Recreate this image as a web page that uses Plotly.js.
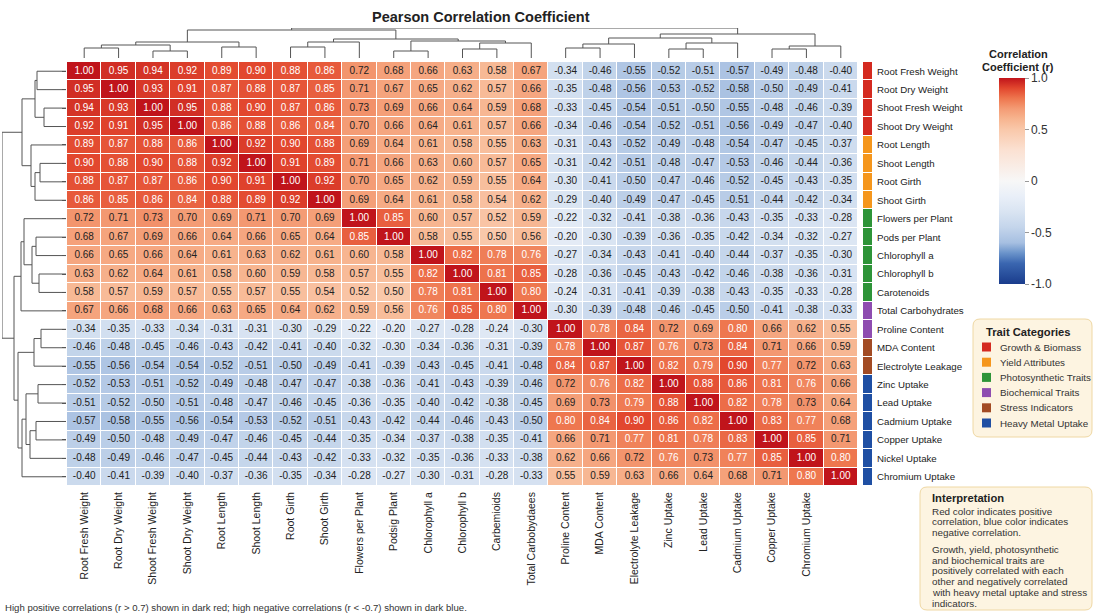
<!DOCTYPE html>
<html><head><meta charset="utf-8">
<script src="https://cdn.plot.ly/plotly-3.0.1.min.js"></script>
<style>html,body{margin:0;padding:0;background:#fff}#chart{width:1094px;height:616px}</style>
</head><body><div id="chart"></div>
<script>
// ---------------- DATA ----------------
const traits = ["Root Fresh Weight","Root Dry Weight","Shoot Fresh Weight","Shoot Dry Weight","Root Length","Shoot Length","Root Girth","Shoot Girth","Flowers per Plant","Pods per Plant","Chlorophyll a","Chlorophyll b","Carotenoids","Total Carbohydrates","Proline Content","MDA Content","Electrolyte Leakage","Zinc Uptake","Lead Uptake","Cadmium Uptake","Copper Uptake","Nickel Uptake","Chromium Uptake"];
const xTickLabels = ["Root Fresh Weight","Root Dry Weight","Shoot Fresh Weight","Shoot Dry Weight","Root Length","Shoot Length","Root Girth","Shoot Girth","Flowers per Plant","Podsig Plant","Chlorophyll a","Chlorophyll b","Carbemioids","Total Carbobydaees","Proline Content","MDA Content","Electrolyte Leakage","Zinc Uptake","Lead Uptake","Cadmium Uptake","Copper Uptake","Chromium Uptake"];
const corr = [
[1.00,0.95,0.94,0.92,0.89,0.90,0.88,0.86,0.72,0.68,0.66,0.63,0.58,0.67,-0.34,-0.46,-0.55,-0.52,-0.51,-0.57,-0.49,-0.48,-0.40],
[0.95,1.00,0.93,0.91,0.87,0.88,0.87,0.85,0.71,0.67,0.65,0.62,0.57,0.66,-0.35,-0.48,-0.56,-0.53,-0.52,-0.58,-0.50,-0.49,-0.41],
[0.94,0.93,1.00,0.95,0.88,0.90,0.87,0.86,0.73,0.69,0.66,0.64,0.59,0.68,-0.33,-0.45,-0.54,-0.51,-0.50,-0.55,-0.48,-0.46,-0.39],
[0.92,0.91,0.95,1.00,0.86,0.88,0.86,0.84,0.70,0.66,0.64,0.61,0.57,0.66,-0.34,-0.46,-0.54,-0.52,-0.51,-0.56,-0.49,-0.47,-0.40],
[0.89,0.87,0.88,0.86,1.00,0.92,0.90,0.88,0.69,0.64,0.61,0.58,0.55,0.63,-0.31,-0.43,-0.52,-0.49,-0.48,-0.54,-0.47,-0.45,-0.37],
[0.90,0.88,0.90,0.88,0.92,1.00,0.91,0.89,0.71,0.66,0.63,0.60,0.57,0.65,-0.31,-0.42,-0.51,-0.48,-0.47,-0.53,-0.46,-0.44,-0.36],
[0.88,0.87,0.87,0.86,0.90,0.91,1.00,0.92,0.70,0.65,0.62,0.59,0.55,0.64,-0.30,-0.41,-0.50,-0.47,-0.46,-0.52,-0.45,-0.43,-0.35],
[0.86,0.85,0.86,0.84,0.88,0.89,0.92,1.00,0.69,0.64,0.61,0.58,0.54,0.62,-0.29,-0.40,-0.49,-0.47,-0.45,-0.51,-0.44,-0.42,-0.34],
[0.72,0.71,0.73,0.70,0.69,0.71,0.70,0.69,1.00,0.85,0.60,0.57,0.52,0.59,-0.22,-0.32,-0.41,-0.38,-0.36,-0.43,-0.35,-0.33,-0.28],
[0.68,0.67,0.69,0.66,0.64,0.66,0.65,0.64,0.85,1.00,0.58,0.55,0.50,0.56,-0.20,-0.30,-0.39,-0.36,-0.35,-0.42,-0.34,-0.32,-0.27],
[0.66,0.65,0.66,0.64,0.61,0.63,0.62,0.61,0.60,0.58,1.00,0.82,0.78,0.76,-0.27,-0.34,-0.43,-0.41,-0.40,-0.44,-0.37,-0.35,-0.30],
[0.63,0.62,0.64,0.61,0.58,0.60,0.59,0.58,0.57,0.55,0.82,1.00,0.81,0.85,-0.28,-0.36,-0.45,-0.43,-0.42,-0.46,-0.38,-0.36,-0.31],
[0.58,0.57,0.59,0.57,0.55,0.57,0.55,0.54,0.52,0.50,0.78,0.81,1.00,0.80,-0.24,-0.31,-0.41,-0.39,-0.38,-0.43,-0.35,-0.33,-0.28],
[0.67,0.66,0.68,0.66,0.63,0.65,0.64,0.62,0.59,0.56,0.76,0.85,0.80,1.00,-0.30,-0.39,-0.48,-0.46,-0.45,-0.50,-0.41,-0.38,-0.33],
[-0.34,-0.35,-0.33,-0.34,-0.31,-0.31,-0.30,-0.29,-0.22,-0.20,-0.27,-0.28,-0.24,-0.30,1.00,0.78,0.84,0.72,0.69,0.80,0.66,0.62,0.55],
[-0.46,-0.48,-0.45,-0.46,-0.43,-0.42,-0.41,-0.40,-0.32,-0.30,-0.34,-0.36,-0.31,-0.39,0.78,1.00,0.87,0.76,0.73,0.84,0.71,0.66,0.59],
[-0.55,-0.56,-0.54,-0.54,-0.52,-0.51,-0.50,-0.49,-0.41,-0.39,-0.43,-0.45,-0.41,-0.48,0.84,0.87,1.00,0.82,0.79,0.90,0.77,0.72,0.63],
[-0.52,-0.53,-0.51,-0.52,-0.49,-0.48,-0.47,-0.47,-0.38,-0.36,-0.41,-0.43,-0.39,-0.46,0.72,0.76,0.82,1.00,0.88,0.86,0.81,0.76,0.66],
[-0.51,-0.52,-0.50,-0.51,-0.48,-0.47,-0.46,-0.45,-0.36,-0.35,-0.40,-0.42,-0.38,-0.45,0.69,0.73,0.79,0.88,1.00,0.82,0.78,0.73,0.64],
[-0.57,-0.58,-0.55,-0.56,-0.54,-0.53,-0.52,-0.51,-0.43,-0.42,-0.44,-0.46,-0.43,-0.50,0.80,0.84,0.90,0.86,0.82,1.00,0.83,0.77,0.68],
[-0.49,-0.50,-0.48,-0.49,-0.47,-0.46,-0.45,-0.44,-0.35,-0.34,-0.37,-0.38,-0.35,-0.41,0.66,0.71,0.77,0.81,0.78,0.83,1.00,0.85,0.71],
[-0.48,-0.49,-0.46,-0.47,-0.45,-0.44,-0.43,-0.42,-0.33,-0.32,-0.35,-0.36,-0.33,-0.38,0.62,0.66,0.72,0.76,0.73,0.77,0.85,1.00,0.80],
[-0.40,-0.41,-0.39,-0.40,-0.37,-0.36,-0.35,-0.34,-0.28,-0.27,-0.30,-0.31,-0.28,-0.33,0.55,0.59,0.63,0.66,0.64,0.68,0.71,0.80,1.00]
];
const categories = ["Growth & Biomass","Yield Attributes","Photosynthetic Traits","Biochemical Traits","Stress Indicators","Heavy Metal Uptake"];
const categoryOfTrait = [0,0,0,0,1,1,1,1,2,2,2,2,2,3,3,4,4,5,5,5,5,5,5];
const categoryColors = ["#d42a20","#f5961c","#2e9438","#8e4cb0","#a24b24","#1f4fa3"];
// dendrogram merges: [childA, childB, height]; leaves 0..22, new clusters numbered from 23
const topMerges = [[0,1,10],[2,3,7],[23,24,13],[4,5,11],[25,26,16],[6,7,11],[28,8,16],[9,10,7],[11,12,9],[31,13,15],[30,32,17],[29,33,19],[27,34,28],[14,15,10],[36,16,14],[17,18,9],[38,19,15],[37,39,20],[20,21,9],[41,22,12],[40,42,24],[35,43,30]];
const leftMerges = [[0,1,29],[2,3,22],[23,24,31],[5,6,26],[26,7,31],[4,27,35],[25,28,44],[9,10,30],[11,12,27],[30,31,34],[8,32,42],[33,13,45],[14,15,25],[35,16,32],[17,18,28],[19,20,30],[38,21,36],[37,39,40],[40,22,44],[36,41,48],[34,42,52],[29,43,64]];
const colorbarTicks = [-1,-0.5,0,0.5,1];
const colorbarTickText = ["-1.0","-0.5","0","0.5","1.0"];
const interpretationLines = ["Red color indicates positive","correlation, blue color indicates","negative correlation.","","Growth, yield, photosynthetic","and biochemical traits are","positively correlated with each","other and negatively correlated","with heavy metal uptake and stress","indicators."];
const footnote = "High positive correlations (r > 0.7) shown in dark red; high negative correlations (r < -0.7) shown in dark blue.";

// ---------------- HELPERS ----------------
const W = 1094, H = 616;
const PX = p => p / W, PY = p => 1 - p / H;
const FONT = "Liberation Sans, Arial, sans-serif";
const n = traits.length;
const idx = traits.map((_, i) => i);

function dendro(merges, nLeaves) {
  const pos = [], hh = [];
  for (let i = 0; i < nLeaves; i++) { pos.push(i); hh.push(0); }
  const p = [], h = [];
  merges.forEach(([a, b, ht]) => {
    p.push(pos[a], pos[a], pos[b], pos[b], null);
    h.push(hh[a], ht, ht, hh[b], null);
    pos.push((pos[a] + pos[b]) / 2); hh.push(ht);
  });
  return { p, h };
}
function roundRect(x0, y0, x1, y1, r) {
  const rx = r / W, ry = r / H;
  const a = PX(x0), b = PX(x1), t = PY(y0), u = PY(y1);
  return `M${a+rx},${t} L${b-rx},${t} Q${b},${t} ${b},${t-ry} L${b},${u+ry} Q${b},${u} ${b-rx},${u} L${a+rx},${u} Q${a},${u} ${a},${u+ry} L${a},${t-ry} Q${a},${t} ${a+rx},${t} Z`;
}

// ---------------- TRACES ----------------
const colorscale = [
  [0, "#1a3c8c"], [0.1, "#3a66b0"], [0.15, "#6a93ca"], [0.2, "#a6bfe1"], [0.275, "#c4d5eb"],
  [0.35, "#d9e4f2"], [0.425, "#e9eff8"], [0.5, "#f7f7f7"], [0.65, "#fbe1d2"], [0.75, "#f9c8aa"],
  [0.8, "#f7b590"], [0.85, "#f49c75"], [0.9, "#ee774f"], [0.95, "#e2472e"], [1, "#c0141b"]
];

const heat = {
  type: "heatmap", z: corr, x: idx, y: idx, zmin: -1, zmax: 1, colorscale,
  xgap: 1, ygap: 1, hoverinfo: "skip", xaxis: "x", yaxis: "y",
  colorbar: {
    x: PX(999), xanchor: "left", y: PY(181), yanchor: "middle",
    len: 206 / H, lenmode: "fraction", thickness: 26, thicknessmode: "pixels",
    outlinewidth: 0, xpad: 0, ypad: 0,
    tickvals: colorbarTicks, ticktext: colorbarTickText,
    ticks: "outside", ticklen: 4, tickcolor: "#999",
    tickfont: { family: FONT, size: 12, color: "#333" }
  }
};

const tx = [], ty = [], tt = [], tc = [];
corr.forEach((row, i) => row.forEach((v, j) => {
  tx.push(j); ty.push(i); tt.push(v.toFixed(2)); tc.push(v >= 0.74 ? "#ffffff" : "#222222");
}));
const labels = {
  type: "scatter", mode: "text", x: tx, y: ty, text: tt, hoverinfo: "skip",
  textfont: { family: FONT, size: 10, color: tc }, xaxis: "x", yaxis: "y"
};

const strip = {
  type: "heatmap", z: categoryOfTrait.map(c => [c]), x: [0], y: idx,
  zmin: 0, zmax: categories.length - 1, showscale: false, ygap: 1, hoverinfo: "skip",
  colorscale: categoryColors.flatMap((c, k) => {
    const s = categoryColors.length;
    return [[k / s, c], [(k + 1) / s, c]];
  }),
  xaxis: "x2", yaxis: "y"
};

const td = dendro(topMerges, n);
const topTree = { type: "scatter", mode: "lines", x: td.p, y: td.h, line: { color: "#555", width: 1 }, hoverinfo: "skip", xaxis: "x3", yaxis: "y4" };
const ld = dendro(leftMerges, n);
const leftTree = { type: "scatter", mode: "lines", x: ld.h, y: ld.p, line: { color: "#555", width: 1 }, hoverinfo: "skip", xaxis: "x4", yaxis: "y5" };
const tickDummy = { type: "scatter", mode: "markers", x: [0], y: [0], marker: { opacity: 0 }, hoverinfo: "skip", xaxis: "x", yaxis: "y3" };

// ---------------- LAYOUT ----------------
const xDom = [PX(67), PX(858)];
const yDom = [PY(486), PY(62)];
const yRange = [n - 0.5, -0.5];

const shapes = [];
const annotations = [];

annotations.push({ text: "<b>Pearson Correlation Coefficient</b>", x: PX(481), y: PY(17), xref: "paper", yref: "paper", showarrow: false, xanchor: "center", yanchor: "middle", font: { family: FONT, size: 14.5, color: "#222" } });
annotations.push({ text: "<b>Correlation</b>", x: PX(1018), y: PY(54), xref: "paper", yref: "paper", showarrow: false, xanchor: "center", yanchor: "middle", font: { family: FONT, size: 11, color: "#222" } });
annotations.push({ text: "<b>Coefficient (r)</b>", x: PX(1018), y: PY(67), xref: "paper", yref: "paper", showarrow: false, xanchor: "center", yanchor: "middle", font: { family: FONT, size: 11, color: "#222" } });

// Trait categories box
shapes.push({ type: "path", path: roundRect(973, 319, 1092, 437, 7), xref: "paper", yref: "paper", fillcolor: "#fdf4e1", line: { color: "#efd8a4", width: 1 }, layer: "below" });
annotations.push({ text: "<b>Trait Categories</b>", x: PX(984), y: PY(332), xref: "paper", yref: "paper", showarrow: false, xanchor: "left", yanchor: "middle", font: { family: FONT, size: 11.2, color: "#222" } });
categories.forEach((c, k) => {
  const yc = 347 + k * 15.2;
  shapes.push({ type: "rect", xref: "paper", yref: "paper", x0: PX(982), x1: PX(991), y0: PY(yc - 4.5), y1: PY(yc + 4.5), fillcolor: categoryColors[k], line: { width: 0 } });
  annotations.push({ text: c, x: PX(998), y: PY(yc), xref: "paper", yref: "paper", showarrow: false, xanchor: "left", yanchor: "middle", font: { family: FONT, size: 9.8, color: "#333" } });
});

// Interpretation box
shapes.push({ type: "path", path: roundRect(920, 487, 1092, 610, 7), xref: "paper", yref: "paper", fillcolor: "#fdf4e1", line: { color: "#efd8a4", width: 1 }, layer: "below" });
annotations.push({ text: "<b>Interpretation</b>", x: PX(930), y: PY(498), xref: "paper", yref: "paper", showarrow: false, xanchor: "left", yanchor: "middle", font: { family: FONT, size: 11.2, color: "#222" } });
interpretationLines.forEach((line, k) => {
  if (!line) return;
  const yc = 511 + k * 10.9 + (k > 3 ? -5.5 : 0);
  annotations.push({ text: line, x: PX(930), y: PY(yc), xref: "paper", yref: "paper", showarrow: false, xanchor: "left", yanchor: "middle", font: { family: FONT, size: 9.9, color: "#333" } });
});

annotations.push({ text: footnote, x: PX(3), y: PY(607), xref: "paper", yref: "paper", showarrow: false, xanchor: "left", yanchor: "middle", font: { family: FONT, size: 9.6, color: "#333" } });

const layout = {
  width: W, height: H, margin: { l: 0, r: 0, t: 0, b: 0 },
  paper_bgcolor: "#fff", plot_bgcolor: "rgba(0,0,0,0)", showlegend: false,
  font: { family: FONT, color: "#222" },
  xaxis: { domain: xDom, range: [-0.5, n - 0.5], anchor: "y", tickvals: xTickLabels.map((_, i) => i), ticktext: xTickLabels, tickangle: -90, ticks: "", ticklabelstandoff: 3, showgrid: false, zeroline: false, showline: false, tickfont: { family: FONT, size: 10.5, color: "#222" } },
  yaxis: { domain: yDom, range: yRange, anchor: "x2", side: "right", tickvals: idx, ticktext: traits, ticks: "", ticklabelstandoff: 4, showgrid: false, zeroline: false, showline: false, tickfont: { family: FONT, size: 9.7, color: "#222" } },
  yaxis3: { overlaying: "y", anchor: "x", side: "left", range: yRange, tickvals: idx, ticks: "outside", ticklen: 4, tickcolor: "#555", showticklabels: false, showgrid: false, zeroline: false, showline: false },
  xaxis2: { domain: [PX(863), PX(872)], range: [-0.5, 0.5], anchor: "y", visible: false },
  xaxis3: { domain: xDom, range: [-0.5, n - 0.5], anchor: "y4", visible: false },
  yaxis4: { domain: [PY(58), PY(28)], range: [0, 30], anchor: "x3", visible: false },
  xaxis4: { domain: [PX(2), PX(66)], range: [64, 0], anchor: "y5", visible: false },
  yaxis5: { domain: yDom, range: yRange, anchor: "x4", visible: false },
  shapes, annotations
};

Plotly.newPlot("chart", [heat, strip, labels, topTree, leftTree, tickDummy], layout, { displayModeBar: false, staticPlot: true });
</script>
</body></html>
